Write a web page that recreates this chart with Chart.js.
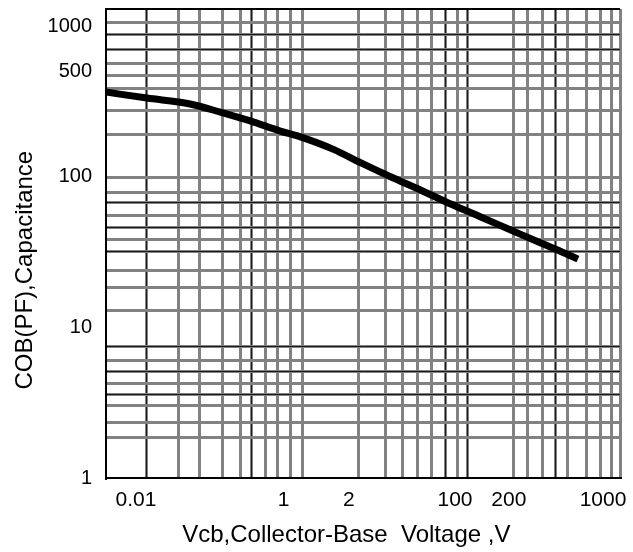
<!DOCTYPE html>
<html>
<head>
<meta charset="utf-8">
<script src="https://cdn.jsdelivr.net/npm/chart.js"></script>
<style>
  html, body { margin: 0; padding: 0; background: #fff; }
</style>
</head>
<body>
<canvas id="cob-chart" width="633" height="552"></canvas>
<script>
// curve
const voltage = [0.00477, 0.0131, 0.0379, 0.0796, 0.167, 0.351, 0.575, 1.30, 2.53, 5.31, 11.1, 23.4, 49.1, 103, 216, 354, 539]
const capacitance = [365, 333, 304, 269, 235, 201, 184, 152, 124, 100, 81.7, 65.9, 54.1, 44.3, 36.3, 31.9, 28.4]

// axis limits
const xMin = 0.00477
const xMax = 1520
const yMin = 1
const yMax = 1300

// grid of the datasheet (it is not a clean log grid)
const xMinorGrid = [0.0282, 0.0474, 0.0837, 0.131, 0.242, 0.326, 0.449, 0.604, 2.41, 4.70, 7.15, 10.4, 14.6, 27.8, 111, 157, 227, 421, 673, 929, 1220, 1520]
const xMajorGrid = [0.0131, 0.171, 20.7, 35.6, 313]
const yMinorGrid = [1050, 569, 467, 388, 277, 192, 98.2, 79.2, 55, 38.1, 24.0, 18.3, 13.0, 6.07, 4.21, 3.05, 2.35, 1.87]
const yMajorGrid = [874, 705, 67, 45.7, 31.7, 7.41, 5.06, 3.56]

// tick labels as printed, and where they are printed
const xLabelAt = [0.01, 0.38, 1.9, 26, 98, 1000]
const xLabels = ['0.01', '1', '2', '100', '200', '1000']
const yLabelAt = [1, 10, 100, 500, 1000]
const yLabels = ['1', '10', '100', '500', '1000']

const FONT = "'Liberation Sans', Arial, sans-serif"

function makeTicks(minor, major, labelAt, labels, edge) {
    const ticks = []
    minor.forEach(v => ticks.push({ value: v, kind: 'minor' }))
    major.forEach(v => ticks.push({ value: v, kind: 'minor' }))
    major.forEach(v => ticks.push({ value: v, kind: 'major' }))
    if (edge) ticks.push({ value: edge, kind: 'edge' })
    labelAt.forEach((v, i) => ticks.push({ value: v, kind: 'label', text: labels[i] }))
    return ticks
}

function gridColor(ctx) {
    const kind = ctx.tick && ctx.tick.kind
    if (kind === 'minor') return '#828282'
    if (kind === 'major') return '#1a1a1a'
    if (kind === 'edge') return '#000'
    return 'rgba(0,0,0,0)'
}

function gridWidth(ctx) {
    const kind = ctx.tick && ctx.tick.kind
    if (kind === 'minor') return 3
    if (kind === 'edge') return 2
    return 1
}

function noPadding(scale) {
    scale.paddingTop = 0
    scale.paddingBottom = 0
    scale.paddingLeft = 0
    scale.paddingRight = 0
}

const data = {
    datasets: [{
        data: voltage.map((v, i) => ({ x: v, y: capacitance[i] })),
        borderColor: '#000',
        borderWidth: 7,
        pointRadius: 0,
        cubicInterpolationMode: 'monotone',
        fill: false
    }]
}

const config = {
    type: 'line',
    data,
    options: {
        responsive: false,
        animation: false,
        layout: { padding: { top: 9, right: 13, bottom: 0, left: 0 } },
        plugins: {
            legend: { display: false },
            tooltip: { enabled: false }
        },
        scales: {
            x: {
                type: 'logarithmic',
                min: xMin,
                max: xMax,
                afterBuildTicks: s => { s.ticks = makeTicks(xMinorGrid, xMajorGrid, xLabelAt, xLabels) },
                afterFit: s => { s.height = 74; noPadding(s) },
                grid: { color: gridColor, lineWidth: gridWidth, drawTicks: false },
                border: { display: true, color: '#000', width: 2 },
                ticks: {
                    autoSkip: false,
                    maxRotation: 0,
                    minRotation: 0,
                    padding: 10,
                    color: '#000',
                    font: { family: FONT, size: 21 },
                    callback: (value, index, ticks) => ticks[index].text || ''
                },
                title: {
                    display: true,
                    text: 'Vcb,Collector-Base  Voltage ,V     ',
                    color: '#000',
                    font: { family: FONT, size: 24 },
                    padding: { top: 0, bottom: 2 }
                }
            },
            y: {
                type: 'logarithmic',
                min: yMin,
                max: yMax,
                afterBuildTicks: s => { s.ticks = makeTicks(yMinorGrid, yMajorGrid, yLabelAt, yLabels, yMax) },
                afterFit: s => { s.width = 106; noPadding(s) },
                grid: { color: gridColor, lineWidth: gridWidth, drawTicks: false },
                border: { display: true, color: '#000', width: 2 },
                ticks: {
                    autoSkip: false,
                    padding: 14,
                    color: '#000',
                    font: { family: FONT, size: 20 },
                    callback: (value, index, ticks) => ticks[index].text || ''
                },
                title: {
                    display: true,
                    text: 'COB(PF),Capacitance        ',
                    color: '#000',
                    font: { family: FONT, size: 24 },
                    padding: { top: 11, bottom: 0 }
                }
            }
        }
    }
}

new Chart(document.getElementById('cob-chart'), config)
</script>
</body>
</html>
